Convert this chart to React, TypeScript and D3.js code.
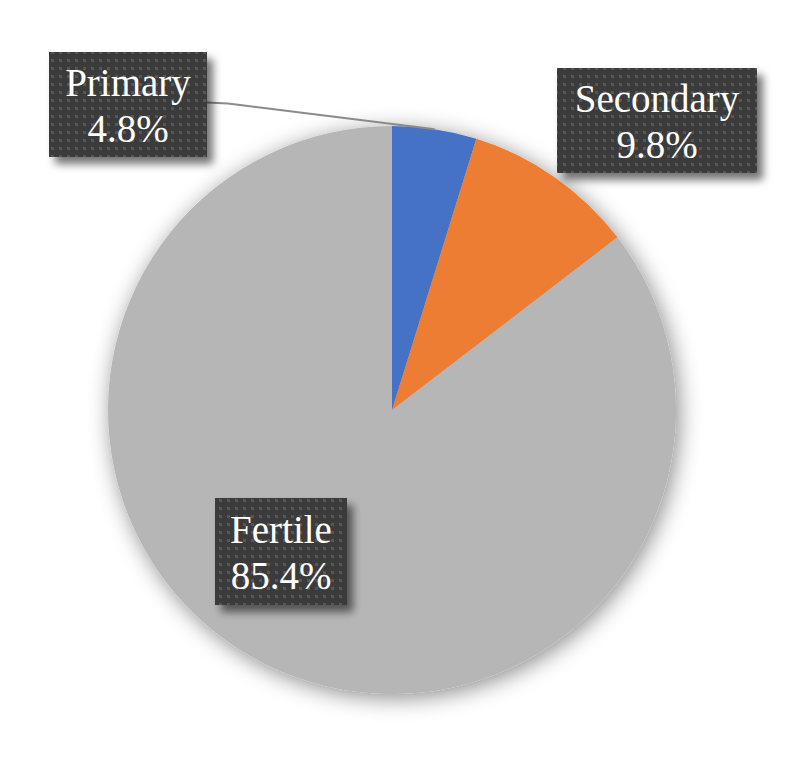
import * as d3 from "d3";
import { useEffect, useRef } from "react";

// categories and shares (%)
const categories = ["Primary", "Secondary", "Fertile"];
const shares = [4.8, 9.8, 85.4];
const colors = ["#4472C4", "#ED7D31", "#B6B6B6"];

// label boxes (layout only)
const boxes = [
  { x: 49, y: 52, w: 158, h: 105 },
  { x: 557, y: 68, w: 200, h: 105 },
  { x: 215, y: 498, w: 132, h: 107 },
];

const W = 798;
const H = 771;

const App = () => {
  const ref = useRef<SVGSVGElement | null>(null);

  useEffect(() => {
    const svg = d3.select(ref.current);
    svg.selectAll("*").remove();

    const cx = 392;
    const cy = 410;
    const r = 284;

    const defs = svg.append("defs");

    const pieShadow = defs.append("filter").attr("id", "pieShadow")
      .attr("x", "-20%").attr("y", "-20%").attr("width", "140%").attr("height", "140%");
    pieShadow.append("feDropShadow")
      .attr("dx", 3).attr("dy", 4).attr("stdDeviation", 11)
      .attr("flood-color", "#000").attr("flood-opacity", 0.45);

    const boxShadow = defs.append("filter").attr("id", "boxShadow")
      .attr("x", "-20%").attr("y", "-20%").attr("width", "150%").attr("height", "150%");
    boxShadow.append("feDropShadow")
      .attr("dx", 6).attr("dy", 7).attr("stdDeviation", 4)
      .attr("flood-color", "#000").attr("flood-opacity", 0.55);

    const pat = defs.append("pattern").attr("id", "dots")
      .attr("patternUnits", "userSpaceOnUse")
      .attr("width", 8).attr("height", 8);
    pat.append("rect").attr("width", 8).attr("height", 8).attr("fill", "#3b3b3b");
    pat.append("rect").attr("x", 3).attr("y", 3).attr("width", 3).attr("height", 3).attr("fill", "#565656");

    const pie = d3.pie<number>().sort(null).value(d => d);
    const arcs = pie(shares);
    const arc = d3.arc<d3.PieArcDatum<number>>().innerRadius(0).outerRadius(r);

    const g = svg.append("g").attr("transform", `translate(${cx},${cy})`);
    const slices = g.append("g").attr("filter", "url(#pieShadow)");
    slices.selectAll("path")
      .data(arcs)
      .enter()
      .append("path")
      .attr("d", arc)
      .attr("fill", (_, i) => colors[i]);

    // leader line for the Primary label
    const a0 = arcs[0];
    const mid = (a0.startAngle + a0.endAngle) / 2;
    const ex = cx + Math.sin(mid) * r;
    const ey = cy - Math.cos(mid) * r;
    const b0 = boxes[0];
    const sx = b0.x + b0.w;
    const sy = b0.y + b0.h / 2 - 2;
    svg.append("polyline")
      .attr("points", `${sx},${sy} ${sx + 21},${sy + 1} ${ex},${ey}`)
      .attr("fill", "none")
      .attr("stroke", "#8a8a8a")
      .attr("stroke-width", 2);

    const labels = svg.append("g");
    boxes.forEach((b, i) => {
      const lg = labels.append("g");
      lg.append("rect")
        .attr("x", b.x).attr("y", b.y)
        .attr("width", b.w).attr("height", b.h)
        .attr("fill", "url(#dots)")
        .attr("filter", "url(#boxShadow)");
      const t = lg.append("text")
        .attr("text-anchor", "middle")
        .style("font-family", "'Liberation Serif', 'DejaVu Serif', serif")
        .style("font-size", "39px")
        .attr("fill", "#ffffff");
      t.append("tspan")
        .attr("x", b.x + b.w / 2)
        .attr("y", b.y + b.h / 2 - 9)
        .text(categories[i]);
      t.append("tspan")
        .attr("x", b.x + b.w / 2)
        .attr("y", b.y + b.h / 2 + 37)
        .text(`${shares[i].toFixed(1)}%`);
    });
  }, []);

  return (
    <svg
      ref={ref}
      width={W}
      height={H}
      style={{ position: "absolute", left: 0, top: 0, background: "#ffffff" }}
    ></svg>
  );
};

export default App;
